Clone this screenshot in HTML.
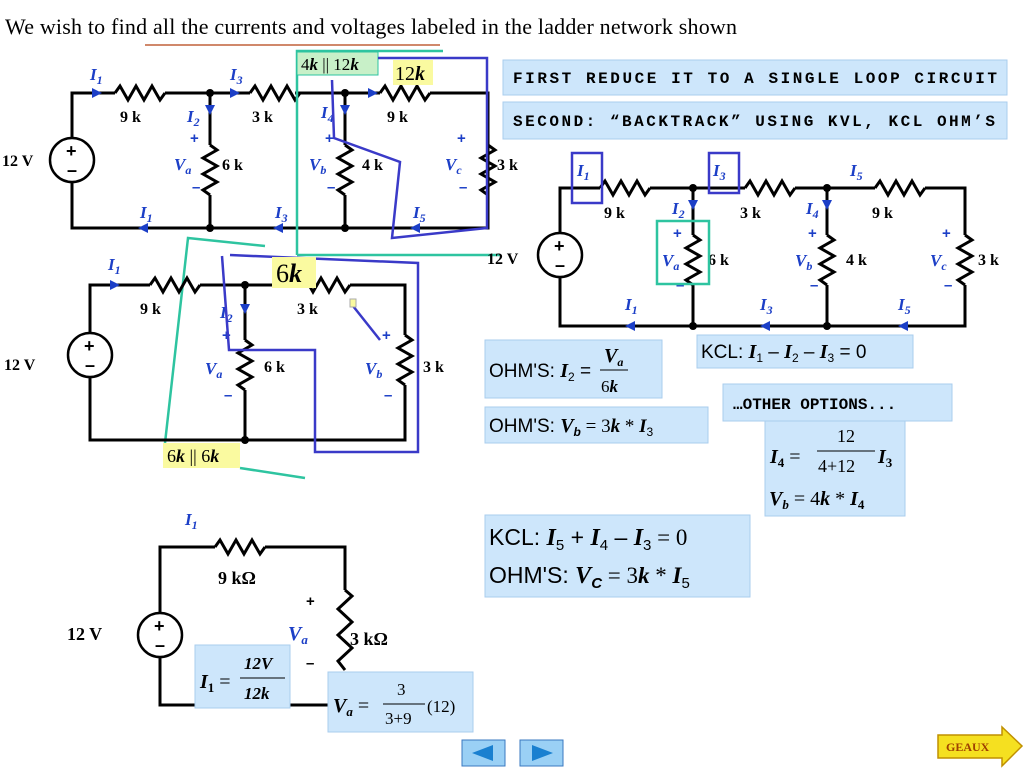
<!DOCTYPE html>
<html><head><meta charset="utf-8"><style>
body{margin:0;background:#fff;width:1024px;height:768px;overflow:hidden}
svg{display:block}
.w{stroke:#000;stroke-width:3;fill:none}
.lb{font:bold 16px "Liberation Serif",serif;fill:#000}
.bl{font:italic bold 17px "Liberation Serif",serif;fill:#1c3fc7}
.pm{font:bold 15px "Liberation Sans",sans-serif;fill:#1c3fc7}
.box{fill:#cde6fb;stroke:#a9cdee;stroke-width:1}
.mono{font:bold 16px "Liberation Mono",monospace;fill:#000}
.eq{font:19px "Liberation Sans",sans-serif;fill:#000}
.es{font:italic bold 20px "Liberation Serif",serif;fill:#000}
</style></head><body>
<svg width="1024" height="768" viewBox="0 0 1024 768">
<defs>
<path id="hr" d="M0 0 l5 -7 l8 14 l8 -14 l8 14 l8 -14 l8 14 l5 -7" stroke="#000" stroke-width="3" fill="none"/>
<path id="vr" d="M0 0 l7 5 l-14 8 l14 8 l-14 8 l14 8 l-14 8 l7 5" stroke="#000" stroke-width="3" fill="none"/>
<g id="src"><circle r="22" fill="#fff" stroke="#000" stroke-width="2.5"/><text x="-6" y="-3" style="font:bold 18px Liberation Sans">+</text><text x="-5" y="16" style="font:bold 18px Liberation Sans">–</text></g>
</defs>
<text x="5" y="34" style="font:22px 'Liberation Serif',serif" textLength="732">We wish to find all the currents and voltages labeled in the ladder network shown</text>
<line x1="145" y1="45" x2="440" y2="45" stroke="#c0603a" stroke-width="1.5"/>

<!-- Circuit 1 -->
<path class="w" d="M72 138 V93 H115 M165 93 H250 M295 93 H380 M430 93 H488 V228 H72 V182 M210 93 V145 M210 195 V228 M345 93 V145 M345 195 V228 M488 93 V145 M488 195 V228"/>
<use href="#hr" x="115" y="93"/><use href="#hr" x="250" y="93"/><use href="#hr" x="380" y="93"/>
<use href="#vr" x="210" y="145"/><use href="#vr" x="345" y="145"/><use href="#vr" x="488" y="145"/>
<use href="#src" x="72" y="160"/>
<circle cx="210" cy="93" r="4"/><circle cx="345" cy="93" r="4"/><circle cx="210" cy="228" r="4"/><circle cx="345" cy="228" r="4"/>
<text class="lb" x="2" y="166">12 V</text>
<text class="lb" x="120" y="122">9 k</text><text class="lb" x="252" y="122">3 k</text><text class="lb" x="387" y="122">9 k</text>
<text class="lb" x="222" y="170">6 k</text><text class="lb" x="362" y="170">4 k</text><text class="lb" x="497" y="170">3 k</text>
<text class="bl" x="90" y="80">I<tspan font-size="12" dy="4">1</tspan></text>
<text class="bl" x="230" y="80">I<tspan font-size="12" dy="4">3</tspan></text>
<text class="bl" x="187" y="122">I<tspan font-size="12" dy="4">2</tspan></text>
<text class="bl" x="321" y="118">I<tspan font-size="12" dy="4">4</tspan></text>
<text class="bl" x="140" y="218">I<tspan font-size="12" dy="4">1</tspan></text>
<text class="bl" x="275" y="218">I<tspan font-size="12" dy="4">3</tspan></text>
<text class="bl" x="413" y="218">I<tspan font-size="12" dy="4">5</tspan></text>
<text class="bl" x="174" y="170">V<tspan font-size="12" dy="4">a</tspan></text>
<text class="bl" x="309" y="170">V<tspan font-size="12" dy="4">b</tspan></text>
<text class="bl" x="445" y="170">V<tspan font-size="12" dy="4">c</tspan></text>
<text class="pm" x="190" y="143">+</text><text class="pm" x="192" y="192">–</text>
<text class="pm" x="325" y="143">+</text><text class="pm" x="327" y="192">–</text>
<text class="pm" x="457" y="143">+</text><text class="pm" x="459" y="192">–</text>
<g fill="#1c3fc7"><path d="M92 88 l10 5 l-10 5z"/><path d="M230 88 l10 5 l-10 5z"/><path d="M368 88 l10 5 l-10 5z"/><path d="M205 105 l5 10 l5 -10z"/><path d="M340 105 l5 10 l5 -10z"/><path d="M148 223 l-10 5 l10 5z"/><path d="M283 223 l-10 5 l10 5z"/><path d="M420 223 l-10 5 l10 5z"/></g>
<g stroke="#2ec4a0" stroke-width="2.5" fill="none"><path d="M297 255 V51 H443"/><path d="M297 255 H500"/><path d="M265 246 L188 238 L165 443"/><path d="M240 468 L305 478"/></g>
<rect x="297" y="52" width="81" height="23" fill="#c8f0c8" stroke="#2ec4a0"/>
<text x="301" y="70" style="font:17px 'Liberation Serif',serif">4<tspan font-style="italic" font-weight="bold">k</tspan> || 12<tspan font-style="italic" font-weight="bold">k</tspan></text>
<rect x="393" y="60" width="40" height="25" fill="#fafaa0"/>
<text x="395" y="80" style="font:20px 'Liberation Serif',serif">12<tspan font-style="italic" font-weight="bold">k</tspan></text>
<path d="M378 58 H487 V228 L392 238 L400 162 L334 138 L332 80" stroke="#3a3ac8" stroke-width="2.5" fill="none"/>

<!-- Circuit 3 -->
<path class="w" d="M90 333 V285 H150 M200 285 H300 M350 285 H405 V335 M405 385 V440 H90 V377 M245 285 V340 M245 390 V440"/>
<use href="#hr" x="150" y="285"/><use href="#hr" x="300" y="285"/>
<use href="#vr" x="245" y="340"/><use href="#vr" x="405" y="335"/>
<use href="#src" x="90" y="355"/>
<circle cx="245" cy="285" r="4"/><circle cx="245" cy="440" r="4"/>
<text class="lb" x="4" y="370">12 V</text><text class="lb" x="140" y="314">9 k</text><text class="lb" x="297" y="314">3 k</text>
<text class="lb" x="264" y="372">6 k</text><text class="lb" x="423" y="372">3 k</text>
<text class="bl" x="108" y="270">I<tspan font-size="12" dy="4">1</tspan></text>
<text class="bl" x="220" y="318">I<tspan font-size="12" dy="4">2</tspan></text>
<text class="bl" x="205" y="374">V<tspan font-size="12" dy="4">a</tspan></text>
<text class="bl" x="365" y="374">V<tspan font-size="12" dy="4">b</tspan></text>
<text class="pm" x="222" y="340">+</text><text class="pm" x="224" y="400">–</text>
<text class="pm" x="382" y="340">+</text><text class="pm" x="384" y="400">–</text>
<g fill="#1c3fc7"><path d="M110 280 l10 5 l-10 5z"/><path d="M240 304 l5 10 l5 -10z"/></g>
<path d="M230 255 L418 263 V452 H315 V350 H229 L222 256 M353 306 L380 340" stroke="#3a3ac8" stroke-width="2.5" fill="none"/>
<rect x="350" y="299" width="6" height="8" fill="#fafaa0" stroke="#aaa"/>
<rect x="272" y="257" width="44" height="31" fill="#fafaa0"/>
<text x="276" y="282" style="font:26px 'Liberation Serif',serif">6<tspan font-style="italic" font-weight="bold">k</tspan></text>
<rect x="163" y="443" width="77" height="25" fill="#fafaa0"/>
<text x="167" y="462" style="font:18px 'Liberation Serif',serif">6<tspan font-style="italic" font-weight="bold">k</tspan> || 6<tspan font-style="italic" font-weight="bold">k</tspan></text>

<!-- Circuit 2 -->
<path class="w" d="M560 233 V188 H600 M650 188 H745 M795 188 H875 M925 188 H965 V235 M965 285 V326 H560 V277 M693 188 V235 M693 285 V326 M827 188 V235 M827 285 V326"/>
<use href="#hr" x="600" y="188"/><use href="#hr" x="745" y="188"/><use href="#hr" x="875" y="188"/>
<use href="#vr" x="693" y="235"/><use href="#vr" x="827" y="235"/><use href="#vr" x="965" y="235"/>
<use href="#src" x="560" y="255"/>
<circle cx="693" cy="188" r="4"/><circle cx="827" cy="188" r="4"/><circle cx="693" cy="326" r="4"/><circle cx="827" cy="326" r="4"/>
<text class="lb" x="487" y="264">12 V</text><text class="lb" x="604" y="218">9 k</text><text class="lb" x="740" y="218">3 k</text><text class="lb" x="872" y="218">9 k</text>
<text class="lb" x="708" y="265">6 k</text><text class="lb" x="846" y="265">4 k</text><text class="lb" x="978" y="265">3 k</text>
<text class="bl" x="577" y="176">I<tspan font-size="12" dy="4">1</tspan></text>
<text class="bl" x="713" y="176">I<tspan font-size="12" dy="4">3</tspan></text>
<text class="bl" x="850" y="176">I<tspan font-size="12" dy="4">5</tspan></text>
<text class="bl" x="672" y="214">I<tspan font-size="12" dy="4">2</tspan></text>
<text class="bl" x="806" y="214">I<tspan font-size="12" dy="4">4</tspan></text>
<text class="bl" x="625" y="310">I<tspan font-size="12" dy="4">1</tspan></text>
<text class="bl" x="760" y="310">I<tspan font-size="12" dy="4">3</tspan></text>
<text class="bl" x="898" y="310">I<tspan font-size="12" dy="4">5</tspan></text>
<text class="bl" x="662" y="266">V<tspan font-size="12" dy="4">a</tspan></text>
<text class="bl" x="795" y="266">V<tspan font-size="12" dy="4">b</tspan></text>
<text class="bl" x="930" y="266">V<tspan font-size="12" dy="4">c</tspan></text>
<text class="pm" x="673" y="238">+</text><text class="pm" x="676" y="290">–</text>
<text class="pm" x="808" y="238">+</text><text class="pm" x="810" y="290">–</text>
<text class="pm" x="942" y="238">+</text><text class="pm" x="944" y="290">–</text>
<g fill="#1c3fc7"><path d="M688 200 l5 10 l5 -10z"/><path d="M822 200 l5 10 l5 -10z"/><path d="M635 321 l-10 5 l10 5z"/><path d="M770 321 l-10 5 l10 5z"/><path d="M908 321 l-10 5 l10 5z"/></g>
<rect x="572" y="153" width="30" height="50" fill="none" stroke="#3a3ac8" stroke-width="2.5"/>
<rect x="709" y="153" width="30" height="40" fill="none" stroke="#3a3ac8" stroke-width="2.5"/>
<rect x="657" y="221" width="52" height="63" fill="none" stroke="#2ec4a0" stroke-width="2.5"/>

<!-- Circuit 4 -->
<path class="w" d="M160 613 V547 H215 M265 547 H345 V590 M345 680 V705 H160 V657"/>
<path d="M345 590 l7 6 l-14 13 l14 13 l-14 13 l14 13 l-14 13 l7 9" stroke="#000" stroke-width="3" fill="none"/>
<use href="#hr" x="215" y="547"/>
<use href="#src" x="160" y="635"/>
<text class="lb" x="67" y="640" style="font-size:18px">12 V</text>
<text class="lb" x="218" y="584" style="font-size:18px">9 kΩ</text>
<text class="lb" x="350" y="645" style="font-size:18px">3 kΩ</text>
<text class="bl" x="185" y="525">I<tspan font-size="12" dy="4">1</tspan></text>
<text class="bl" x="288" y="640" style="font-size:20px">V<tspan font-size="13" dy="4">a</tspan></text>
<text class="pm" x="306" y="606" style="fill:#000">+</text><text class="pm" x="306" y="668" style="fill:#000">–</text>
<rect x="195" y="645" width="95" height="63" class="box"/>
<text class="es" x="200" y="688">I<tspan font-size="13" dy="4" font-style="normal">1</tspan><tspan dy="-4" font-style="normal" font-weight="normal"> =</tspan></text>
<text x="244" y="669" style="font:italic bold 17px 'Liberation Serif'">12V</text><line x1="240" y1="678" x2="285" y2="678" stroke="#000"/><text x="244" y="699" style="font:italic bold 17px 'Liberation Serif'">12k</text>
<rect x="328" y="672" width="145" height="60" class="box"/>
<text class="es" x="333" y="712">V<tspan font-size="13" dy="4">a</tspan><tspan dy="-4" font-style="normal" font-weight="normal"> =</tspan></text>
<text x="397" y="695" style="font:17px 'Liberation Serif'">3</text><line x1="383" y1="704" x2="425" y2="704" stroke="#000"/><text x="385" y="724" style="font:17px 'Liberation Serif'">3+9</text>
<text x="427" y="712" style="font:17px 'Liberation Serif'">(12)</text>

<!-- Boxes -->
<rect x="503" y="60" width="504" height="35" class="box"/><text class="mono" x="513" y="83" textLength="484">FIRST REDUCE IT TO A SINGLE LOOP CIRCUIT</text>
<rect x="503" y="102" width="504" height="37" class="box"/><text class="mono" x="513" y="126" textLength="482">SECOND: “BACKTRACK” USING KVL, KCL OHM’S</text>
<rect x="485" y="340" width="177" height="58" class="box"/>
<text class="eq" x="489" y="377">OHM'S: <tspan class="es">I</tspan><tspan font-size="12" dy="4">2</tspan><tspan dy="-4"> =</tspan></text>
<text class="es" x="604" y="362">V<tspan font-size="12" dy="4">a</tspan></text><line x1="600" y1="370" x2="628" y2="370" stroke="#000"/><text x="601" y="392" style="font:17px 'Liberation Serif'">6<tspan font-style="italic" font-weight="bold">k</tspan></text>
<rect x="485" y="407" width="223" height="36" class="box"/>
<text class="eq" x="489" y="432">OHM'S: <tspan class="es">V</tspan><tspan font-size="12" font-weight="bold" font-style="italic" dy="4">b</tspan><tspan dy="-4" style="font-family:Liberation Serif"> = 3<tspan font-weight="bold" font-style="italic">k</tspan> * <tspan font-weight="bold" font-style="italic">I</tspan></tspan><tspan font-size="12" dy="4">3</tspan></text>
<rect x="697" y="335" width="216" height="33" class="box"/>
<text class="eq" x="701" y="358">KCL: <tspan class="es">I</tspan><tspan font-size="12" dy="4">1</tspan><tspan dy="-4"> – </tspan><tspan class="es">I</tspan><tspan font-size="12" dy="4">2</tspan><tspan dy="-4"> – </tspan><tspan class="es">I</tspan><tspan font-size="12" dy="4">3</tspan><tspan dy="-4"> = 0</tspan></text>
<rect x="723" y="384" width="229" height="37" class="box"/><text class="mono" x="733" y="409">…OTHER OPTIONS...</text>
<rect x="765" y="421" width="140" height="95" class="box"/>
<text class="es" x="770" y="463">I<tspan font-size="13" dy="4" font-style="normal">4</tspan><tspan dy="-4" font-style="normal" font-weight="normal"> =</tspan></text>
<text x="837" y="442" style="font:18px 'Liberation Serif'">12</text><line x1="817" y1="451" x2="875" y2="451" stroke="#000"/><text x="818" y="472" style="font:18px 'Liberation Serif'">4+12</text>
<text class="es" x="878" y="463">I<tspan font-size="13" dy="4" font-style="normal">3</tspan></text>
<text class="es" x="769" y="505">V<tspan font-size="13" dy="4">b</tspan><tspan dy="-4" font-style="normal" font-weight="normal"> = 4</tspan>k<tspan font-style="normal" font-weight="normal"> * </tspan>I<tspan font-size="13" dy="4" font-style="normal">4</tspan></text>
<rect x="485" y="515" width="265" height="82" class="box"/>
<text class="eq" x="489" y="545" style="font-size:23px">KCL: <tspan class="es" style="font-size:24px">I</tspan><tspan font-size="15" dy="5">5</tspan><tspan dy="-5"> + </tspan><tspan class="es" style="font-size:24px">I</tspan><tspan font-size="15" dy="5">4</tspan><tspan dy="-5"> – </tspan><tspan class="es" style="font-size:24px">I</tspan><tspan font-size="15" dy="5">3</tspan><tspan dy="-5" font-family="Liberation Serif"> = 0</tspan></text>
<text class="eq" x="489" y="583" style="font-size:23px">OHM'S: <tspan class="es" style="font-size:24px">V</tspan><tspan font-size="15" dy="5" font-weight="bold" font-style="italic">C</tspan><tspan dy="-5" font-family="Liberation Serif"> = 3<tspan font-weight="bold" font-style="italic">k</tspan> * <tspan font-weight="bold" font-style="italic">I</tspan></tspan><tspan font-size="15" dy="5">5</tspan></text>

<!-- Nav -->
<rect x="462" y="740" width="43" height="26" fill="#9ad0f5" stroke="#3a78c0"/><path d="M493 745 L472 753 L493 761z" fill="#1a80d0"/>
<rect x="520" y="740" width="43" height="26" fill="#9ad0f5" stroke="#3a78c0"/><path d="M532 745 L553 753 L532 761z" fill="#1a80d0"/>
<path d="M938 735 H1002 V727 L1022 746 L1002 766 V758 H938z" fill="#f5e020" stroke="#c09000" stroke-width="1.5"/>
<text x="946" y="751" style="font:bold 12px 'Liberation Serif',serif;fill:#a04000">GEAUX</text>
</svg>
</body></html>
